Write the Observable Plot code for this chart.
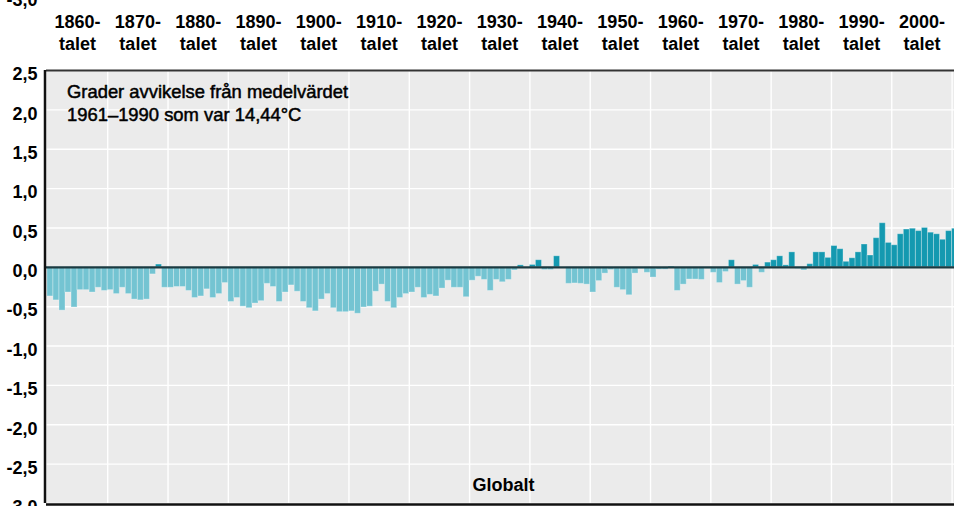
<!DOCTYPE html>
<html>
<head>
<meta charset="utf-8">
<script src="https://cdn.jsdelivr.net/npm/d3@7"></script>
<script src="https://cdn.jsdelivr.net/npm/@observablehq/plot@0.6"></script>
<style>
  html, body { margin: 0; padding: 0; background: #ffffff; }
  #chart svg { display: block; }
</style>
</head>
<body>
<div id="chart"></div>
<script>
// ---- Data ----
const startYear = 1860;
// Global temperature anomaly (°C) vs 1961–1990 mean, one value per year 1860–2010
const anomalies = [
  -0.37, -0.42, -0.55, -0.32, -0.51, -0.29, -0.29, -0.32, -0.26, -0.30, // 1860s
  -0.29, -0.34, -0.26, -0.34, -0.41, -0.42, -0.41, -0.09, 0.035, -0.26, // 1870s
  -0.26, -0.25, -0.25, -0.30, -0.39, -0.37, -0.28, -0.39, -0.34, -0.20, // 1880s
  -0.44, -0.39, -0.50, -0.52, -0.46, -0.43, -0.21, -0.25, -0.44, -0.32, // 1890s
  -0.23, -0.31, -0.44, -0.52, -0.56, -0.41, -0.34, -0.52, -0.57, -0.57, // 1900s
  -0.56, -0.59, -0.51, -0.50, -0.31, -0.22, -0.44, -0.52, -0.39, -0.34, // 1910s
  -0.32, -0.26, -0.39, -0.35, -0.37, -0.27, -0.17, -0.26, -0.26, -0.38, // 1920s
  -0.17, -0.12, -0.16, -0.30, -0.16, -0.19, -0.16, -0.04, 0.025, 0.0,   // 1930s
  0.03, 0.09, -0.035, -0.035, 0.14, 0.0, -0.21, -0.205, -0.21, -0.22,    // 1940s
  -0.32, -0.175, -0.08, -0.035, -0.26, -0.29, -0.355, -0.08, -0.02, -0.07, // 1950s
  -0.13, -0.03, -0.03, 0.01, -0.30, -0.22, -0.155, -0.155, -0.16, -0.02, // 1960s
  -0.07, -0.20, -0.06, 0.09, -0.22, -0.175, -0.26, 0.03, -0.07, 0.06,   // 1970s
  0.09, 0.14, 0.025, 0.19, -0.02, -0.04, 0.04, 0.19, 0.19, 0.12,        // 1980s
  0.27, 0.23, 0.07, 0.115, 0.19, 0.29, 0.15, 0.37, 0.56, 0.31,          // 1990s
  0.28, 0.42, 0.48, 0.49, 0.46, 0.50, 0.44, 0.42, 0.35, 0.46,           // 2000s
  0.49                                                                   // 2010
];
const decades = [1860, 1870, 1880, 1890, 1900, 1910, 1920, 1930, 1940, 1950, 1960, 1970, 1980, 1990, 2000];
const decadeSuffix = "talet";
const yTicks = [2.5, 2.0, 1.5, 1.0, 0.5, 0.0, -0.5, -1.0, -1.5, -2.0, -2.5, -3.0];
const gridYears = [1870, 1880, 1890, 1900, 1910, 1920, 1930, 1940, 1950, 1960, 1970, 1980, 1990, 2000, 2010];
const noteLines = ["Grader avvikelse från medelvärdet", "1961–1990 som var 14,44°C"];
const regionLabel = "Globalt";
const aboveLabel = "-3,0";

// ---- Build table ----
const rows = anomalies.map((v, i) => ({ year: startYear + i, value: v }));
const fmt = v => v.toFixed(1).replace(".", ",");

const font = "'Liberation Sans', Arial, Helvetica, sans-serif";
const posColor = "#1499b0";
const negColor = "#74c4d2";

const chart = Plot.plot({
  width: 954,
  height: 506,
  marginLeft: 46,
  marginRight: 0,
  marginTop: 70,
  marginBottom: 3,
  style: { fontFamily: font, background: "#ffffff", overflow: "visible" },
  x: { domain: [1859.85, 2010.4], axis: null },
  y: { domain: [-3, 2.5], axis: null },
  marks: [
    Plot.frame({ fill: "#ebebeb", stroke: null }),
    Plot.ruleX(gridYears, { stroke: "#ffffff", strokeWidth: 1.4 }),
    Plot.ruleY(yTicks, { stroke: "#ffffff", strokeWidth: 1.4 }),
    Plot.rectY(rows, {
      x1: "year",
      x2: d => d.year + 1,
      y1: 0,
      y2: "value",
      fill: d => d.value >= 0 ? posColor : negColor,
      stroke: "#ffffff",
      strokeOpacity: 0.3,
      strokeWidth: 1
    }),
    Plot.ruleY([0], { stroke: "#1c3a40", strokeWidth: 2.2 }),
    Plot.ruleY([2.5], { stroke: "#333333", strokeWidth: 2 }),
    Plot.ruleY([-3], { stroke: "#111111", strokeWidth: 2.5, dy: 1 }),
    Plot.ruleX([1859.85], { stroke: "#111111", strokeWidth: 2.5, dx: -1.5 }),
    // y tick labels
    Plot.text(yTicks, {
      y: d => d, text: d => fmt(d), frameAnchor: "left", dx: -9, dy: 4,
      textAnchor: "end", fontWeight: "bold", fontSize: 18, fill: "#000"
    }),
    // decade labels on top
    Plot.text(decades, {
      x: d => d + 5, text: d => `${d}-\n${decadeSuffix}`,
      frameAnchor: "top", dy: -21, lineAnchor: "bottom", lineHeight: 1.17,
      fontWeight: "bold", fontSize: 18, fill: "#000"
    }),
    // note inside
    Plot.text([noteLines.join("\n")], {
      frameAnchor: "top-left", dx: 20.5, dy: 11.5, lineAnchor: "top",
      textAnchor: "start", lineHeight: 1.25, fontSize: 18.4, fill: "#000",
      stroke: "#000", strokeWidth: 0.5
    }),
    // region label
    Plot.text([regionLabel], {
      frameAnchor: "bottom", dx: 3, dy: -12.5, lineAnchor: "bottom",
      fontWeight: "bold", fontSize: 18, fill: "#000"
    }),
    // cut-off label from chart above
    Plot.text([aboveLabel], {
      frameAnchor: "top-left", dx: -9, dy: -65, lineAnchor: "bottom",
      textAnchor: "end", fontWeight: "bold", fontSize: 18, fill: "#000"
    })
  ]
});
document.getElementById("chart").appendChild(chart);
</script>
</body>
</html>
